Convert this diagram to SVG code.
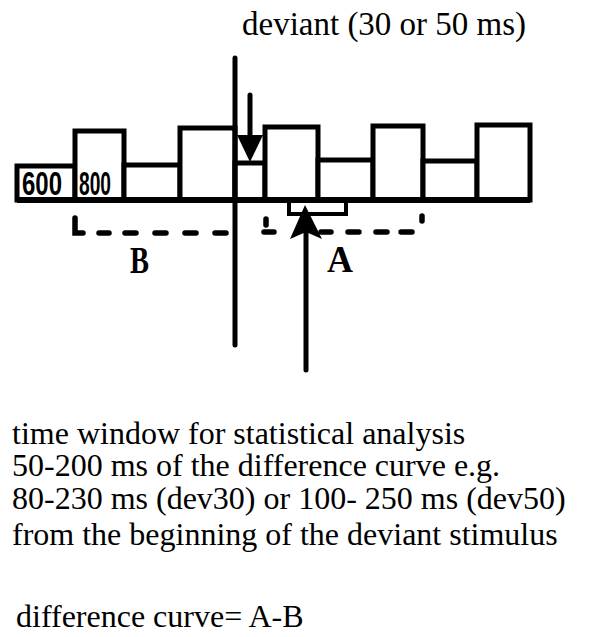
<svg xmlns="http://www.w3.org/2000/svg" width="589" height="637" viewBox="0 0 589 637">
<style>
.t{font-family:"Liberation Serif","Times New Roman",serif;fill:#000}
.lbl{font-family:"Liberation Serif","Times New Roman",serif;font-weight:bold;fill:#000}
.num{font-family:"Liberation Sans",Arial,sans-serif;font-weight:bold;fill:#000}
.box{fill:#fff;stroke:#000;stroke-width:5;stroke-linejoin:miter}
.ln{stroke:#000;fill:none;stroke-width:5;stroke-linecap:round}
.dash{stroke:#000;fill:none;stroke-width:5.5;stroke-linecap:round}
</style>
<rect width="589" height="637" fill="#fff"/>
<g id="title"><text class="t" x="242" y="35" font-size="33">deviant (30 or 50 ms)</text></g>
<g id="stimuli">
<rect class="box" x="17" y="166" width="58" height="34"/>
<rect class="box" x="75" y="131" width="49" height="69"/>
<rect class="box" x="124" y="165" width="56" height="35"/>
<rect class="box" x="180" y="128" width="55" height="72"/>
<rect class="box" x="235" y="163" width="30" height="37"/>
<rect class="box" x="265" y="127" width="53" height="73"/>
<rect class="box" x="318" y="160" width="55" height="40"/>
<rect class="box" x="373" y="126" width="50" height="74"/>
<rect class="box" x="423" y="161" width="54" height="39"/>
<rect class="box" x="477" y="125" width="53" height="75"/>
<line x1="17" y1="200" x2="530" y2="200" stroke="#000" stroke-width="6"/>
<text class="num" x="22" y="195" font-size="34" textLength="40" lengthAdjust="spacingAndGlyphs">600</text>
<text class="num" x="79" y="195" font-size="34" textLength="32" lengthAdjust="spacingAndGlyphs">800</text>
</g>
<g id="connectors">
<line class="ln" x1="235" y1="58" x2="235" y2="345"/>
<line class="ln" x1="250" y1="95" x2="250" y2="140"/>
<polygon points="237,135 263,135 250,162" fill="#000"/>
<line class="ln" x1="306" y1="370" x2="306" y2="230"/>
<polygon points="290,239 305,205 322,239 306,232" fill="#000"/>
<path d="M289,200 V214 H346 V200" stroke="#000" stroke-width="4" fill="none"/>
</g>
<g id="windowB">
<path class="dash" d="M75,218 V233 H83"/>
<line class="dash" x1="99" y1="233" x2="109" y2="233"/>
<line class="dash" x1="125" y1="233" x2="136" y2="233"/>
<line class="dash" x1="155" y1="233" x2="166" y2="233"/>
<line class="dash" x1="185" y1="233" x2="196" y2="233"/>
<line class="dash" x1="215" y1="233" x2="226" y2="233"/>
<text class="lbl" x="130" y="273" font-size="38" textLength="19" lengthAdjust="spacingAndGlyphs">B</text>
</g>
<g id="windowA">
<line class="dash" x1="266" y1="219" x2="266" y2="225"/>
<line class="dash" x1="264" y1="232" x2="274" y2="232"/>
<line class="dash" x1="321" y1="232" x2="331" y2="232"/>
<line class="dash" x1="348" y1="232" x2="359" y2="232"/>
<line class="dash" x1="376" y1="232" x2="387" y2="232"/>
<line class="dash" x1="401" y1="232" x2="412" y2="232"/>
<line class="dash" x1="422" y1="216" x2="422" y2="221"/>
<text class="lbl" x="327" y="272" font-size="38" textLength="26" lengthAdjust="spacingAndGlyphs">A</text>
</g>
<g id="notes">
<text class="t" x="12" y="444" font-size="32">time window for statistical analysis</text>
<text class="t" x="12" y="476" font-size="32">50-200 ms of the difference curve e.g.</text>
<text class="t" x="12" y="509" font-size="32">80-230 ms (dev30) or 100- 250 ms (dev50)</text>
<text class="t" x="12" y="545" font-size="32">from the beginning of the deviant stimulus</text>
<text class="t" x="16" y="627" font-size="32">difference curve= A-B</text>
</g>
</svg>
